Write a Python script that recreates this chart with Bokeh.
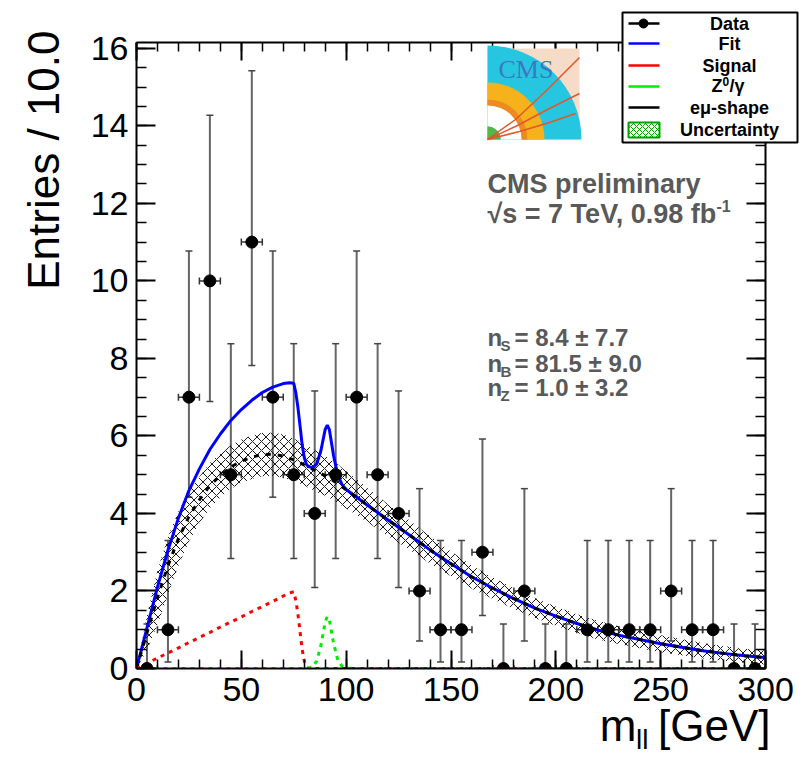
import numpy as np
from bokeh.plotting import figure
from bokeh.models import (ColumnDataSource, Whisker, TeeHead, Label, LinearAxis,
                          SingleIntervalTicker, Range1d, CustomJSTickFormatter)
from bokeh.embed import file_html
from bokeh.resources import INLINE

# ---------------- data ----------------
bin_centers = [5, 15, 25, 35, 45, 55, 65, 75, 85, 95, 105, 115, 125, 135, 145,
               155, 165, 175, 185, 195, 205, 215, 225, 235, 245, 255, 265, 275, 285, 295]
counts = [0, 1, 7, 10, 5, 11, 7, 5, 4, 5, 7, 5, 4, 2, 1,
          1, 3, 0, 2, 0, 0, 1, 1, 1, 1, 2, 1, 1, 0, 0]
err_low = [0, 0.17, 4.42, 6.89, 2.84, 7.82, 4.42, 2.84, 2.09, 2.84, 4.42, 2.84, 2.09, 0.71, 0.17,
           0.17, 1.37, 0, 0.71, 0, 0, 0.17, 0.17, 0.17, 0.17, 0.71, 0.17, 0.17, 0, 0]
err_high = [1.15, 3.30, 10.77, 14.27, 8.38, 15.42, 10.77, 8.38, 7.16, 8.38, 10.77, 8.38, 7.16, 4.64, 3.30,
            3.30, 5.92, 1.15, 4.64, 1.15, 1.15, 3.30, 3.30, 3.30, 3.30, 4.64, 3.30, 3.30, 1.15, 1.15]
bin_half_width = 5.0

curve_x = [0, 5, 10, 15, 20, 25, 30, 35, 40, 45, 50, 55, 60, 65, 70,
           73, 75, 76, 77, 78, 79, 80, 81, 82,
           84, 86, 88, 90, 91, 92, 94, 96, 98, 100,
           105, 110,
           120, 130, 140, 150, 160, 170, 180, 190, 200, 210, 220, 230, 240, 250,
           260, 270, 280, 290, 300]
emu_shape = [0, 0.92, 1.83, 2.65, 3.35, 3.92, 4.35, 4.72, 4.98, 5.20, 5.35, 5.45, 5.52, 5.53, 5.48,
             5.42, 5.38, 5.36, 5.33, 5.31, 5.28, 5.25, 5.22, 5.20,
             5.14, 5.08, 5.03, 4.97, 4.94, 4.91, 4.84, 4.77, 4.69, 4.61,
             4.42, 4.22,
             3.83, 3.45, 3.06, 2.70, 2.36, 2.07, 1.80, 1.56, 1.35, 1.16, 0.99, 0.86, 0.75, 0.64,
             0.55, 0.46, 0.39, 0.33, 0.28]
signal_curve = [0, 0.13, 0.27, 0.40, 0.53, 0.67, 0.80, 0.93, 1.07, 1.20, 1.33, 1.47, 1.60, 1.73, 1.87,
                1.95, 1.98, 1.75, 1.40, 0.95, 0.50, 0.20, 0.05, 0,
                0, 0, 0, 0, 0, 0, 0, 0, 0, 0,
                0, 0,
                0, 0, 0, 0, 0, 0, 0, 0, 0, 0, 0, 0, 0, 0,
                0, 0, 0, 0, 0]
zgamma_curve = [0, 0, 0, 0, 0, 0, 0, 0, 0, 0, 0, 0, 0, 0, 0,
                0, 0, 0, 0, 0, 0, 0, 0, 0.01,
                0.04, 0.20, 0.60, 1.20, 1.34, 1.25, 0.65, 0.22, 0.06, 0.01,
                0, 0,
                0, 0, 0, 0, 0, 0, 0, 0, 0, 0, 0, 0, 0, 0,
                0, 0, 0, 0, 0]
uncert_halfwidth = [0, 0.45, 0.70, 0.75, 0.70, 0.65, 0.60, 0.58, 0.57, 0.56, 0.56, 0.56, 0.56, 0.56, 0.56,
                    0.55, 0.55, 0.55, 0.55, 0.54, 0.54, 0.54, 0.54, 0.53,
                    0.53, 0.53, 0.52, 0.52, 0.51, 0.51, 0.50, 0.50, 0.49, 0.48,
                    0.46, 0.44,
                    0.41, 0.38, 0.35, 0.32, 0.30, 0.28, 0.27, 0.26, 0.25, 0.24, 0.24, 0.23, 0.23, 0.22,
                    0.21, 0.20, 0.19, 0.18, 0.18]

legend_labels = ["Data", "Fit", "Signal", "Z", "eμ-shape", "Uncertainty"]
fit_results = [("S", "= 8.4 ± 7.7"), ("B", "= 81.5 ± 9.0"), ("Z", "= 1.0 ± 3.2")]

# derived
bkg = np.array(emu_shape)
fit_curve = bkg + np.array(signal_curve) + np.array(zgamma_curve)
band_lo = np.maximum(bkg - np.array(uncert_halfwidth), 0)
band_hi = bkg + np.array(uncert_halfwidth)

FONT = "Liberation Sans"
W, H = 799, 758

# ================= main plot =================
p = figure(width=W, height=H, x_range=Range1d(0, 300), y_range=Range1d(0, 16.15),
           output_backend="svg", toolbar_location=None,
           min_border_left=136, min_border_right=34, min_border_top=42, min_border_bottom=90,
           background_fill_color="white", border_fill_color="white", outline_line_color=None)
p.grid.visible = False


def style_axis(ax, major, minor, labels):
    ax.axis_line_width = 2
    ax.axis_line_color = "black"
    ax.major_tick_in = major
    ax.major_tick_out = 0
    ax.minor_tick_in = minor
    ax.minor_tick_out = 0
    ax.major_tick_line_width = 2
    ax.minor_tick_line_width = 1.5
    ax.major_tick_line_color = "black"
    ax.minor_tick_line_color = "black"
    if labels:
        ax.major_label_text_font = FONT
        ax.major_label_text_font_size = "34px"
        ax.major_label_text_color = "black"
    else:
        ax.formatter = CustomJSTickFormatter(code="return ''")
        ax.major_label_standoff = 0


p.xaxis.ticker = SingleIntervalTicker(interval=50, num_minor_ticks=5)
p.yaxis.ticker = SingleIntervalTicker(interval=2, num_minor_ticks=4)
style_axis(p.xaxis[0], 18, 9, True)
style_axis(p.yaxis[0], 19, 10, True)
p.xaxis.major_label_standoff = 9
p.yaxis.major_label_standoff = 8

ax_top = LinearAxis(ticker=SingleIntervalTicker(interval=50, num_minor_ticks=5))
style_axis(ax_top, 18, 9, False)
p.add_layout(ax_top, "above")
ax_right = LinearAxis(ticker=SingleIntervalTicker(interval=2, num_minor_ticks=4))
style_axis(ax_right, 19, 10, False)
p.add_layout(ax_right, "right")

# band and curves
p.varea(x=curve_x, y1=band_lo, y2=band_hi, fill_alpha=0, hatch_pattern="diagonal_cross",
        hatch_color="black", hatch_scale=9, hatch_weight=0.9)
p.line(curve_x, fit_curve, line_color="#0000ff", line_width=3)
p.line(curve_x, emu_shape, line_color="black", line_width=3, line_dash="5 7")
p.line(curve_x, signal_curve, line_color="#ff0000", line_width=3, line_dash="4 5")
p.line(curve_x, zgamma_curve, line_color="#00ee00", line_width=3, line_dash="4 5")

# data points
bc = np.array(bin_centers, dtype=float)
src = ColumnDataSource(dict(x=bc, y=counts, lo=err_low, hi=err_high,
                            xl=bc - bin_half_width, xh=bc + bin_half_width))
p.add_layout(Whisker(base="x", lower="lo", upper="hi", source=src, dimension="height",
                     line_color="#666666", line_width=2,
                     upper_head=TeeHead(size=7, line_color="#444444", line_width=1.5),
                     lower_head=TeeHead(size=7, line_color="#444444", line_width=1.5)))
p.add_layout(Whisker(base="y", lower="xl", upper="xh", source=src, dimension="width",
                     line_color="#333333", line_width=1.5,
                     upper_head=TeeHead(size=7, line_color="#333333", line_width=1.5),
                     lower_head=TeeHead(size=7, line_color="#333333", line_width=1.5)))
p.scatter("x", "y", source=src, size=12, fill_color="black", line_color="black")

# ================= overlay (page pixel coordinates) for texts, legend, logo =================
ov = figure(width=W, height=H, x_range=Range1d(0, W), y_range=Range1d(H, 0),
            output_backend="svg", toolbar_location=None, min_border=0,
            x_axis_location=None, y_axis_location=None,
            background_fill_alpha=0, border_fill_alpha=0, outline_line_color=None)
ov.grid.visible = False
ov.styles = {"position": "absolute", "top": "0px", "left": "0px"}

MID = 0.3465  # distance (in em) from text-box middle to alphabetic baseline


def lab(X, Y, text, size, color="black", bold=False, align="left", rotated=False, font=FONT,
        middle=False):
    """(X, Y) is the baseline point unless middle=True."""
    if rotated:
        x, y, ang = X - (0 if middle else MID * size), Y, np.pi / 2
    else:
        x, y, ang = X, Y - (0 if middle else MID * size), 0.0
    ov.add_layout(Label(x=x, y=y, text=text, text_font=font, text_font_size=f"{size}px",
                        text_color=color, text_font_style="bold" if bold else "normal",
                        text_align=align, text_baseline="middle", angle=ang))


# CMS logo (decoration)
LX0, LX1, LY0, LY1 = 487, 579, 139, 48
ov.quad(left=[LX0], right=[LX1], bottom=[LY0], top=[LY1], fill_color="#f6dcc8", line_color=None)
for r_in, r_out, col in [(0, 94, "#27c6e0"), (34, 57, "#f6b21a"), (34, 40, "#ee8a22"),
                         (13, 34, "white"), (0, 13, "#52b848")]:
    ov.annular_wedge(x=[LX0], y=[LY0], inner_radius=r_in, outer_radius=r_out,
                     inner_radius_units="screen", outer_radius_units="screen",
                     start_angle=0, end_angle=np.pi / 2, fill_color=col, line_color=None)
for pts in [[(0, 0), (28, 20), (58, 48), (92, 82)],
            [(0, 0), (30, 14), (60, 30), (92, 46)],
            [(0, 0), (32, 8), (62, 17), (88, 26)]]:
    ov.line([LX0 + a for a, b in pts], [LY0 - b for a, b in pts], line_color="#e2572a", line_width=1.5)
lab(498, 78, "CMS", 26, "#3b78c4", font="Liberation Serif")

# physics texts
GREY = "#595959"
lab(487, 193, "CMS preliminary", 27, GREY, True)
lab(487, 223, "√s = 7 TeV, 0.98 fb", 27, GREY, True)
lab(716, 211, "-1", 16, GREY, True)
for yb, (sub, rest) in zip([345, 371, 395], fit_results):
    lab(487, yb, "n", 24, GREY, True)
    lab(500, yb + 5, sub, 15, GREY, True)
    lab(514, yb, rest, 24, GREY, True)

# axis titles
lab(58, 30, "Entries / 10.0", 44, rotated=True, align="right")
lab(770, 740, "[GeV]", 44, align="right")
lab(648, 749, "ll", 28, align="right")
lab(636, 740, "m", 44, align="right")

# legend
ov.quad(left=[622], right=[797], top=[12], bottom=[142], fill_color="white",
        line_color="black", line_width=2)
rows = [23, 43, 65, 86, 107, 129]
line_cols = ["black", "#0000ff", "#ff0000", "#00ee00", "black"]
ov.segment(x0=[628] * 5, x1=[659] * 5, y0=rows[:5], y1=rows[:5], line_color=line_cols, line_width=2.5)
ov.scatter([643], [rows[0]], size=9, fill_color="black", line_color="black")
ov.quad(left=[628], right=[659], top=[122], bottom=[137], fill_color="white",
        hatch_pattern="diagonal_cross", hatch_color="#00a000", hatch_scale=6, hatch_weight=1,
        line_color="#00a000", line_width=2)
for yy, t in zip(rows, legend_labels):
    if t == "Z":
        lab(711, yy + 6, "Z", 18, bold=True)
        lab(722, yy - 1, "0", 12, bold=True)
        lab(729, yy + 6, "/γ", 18, bold=True)
    else:
        lab(729, yy, t, 18, bold=True, align="center", middle=True)

open("out.html", "w").write(file_html((p, ov), INLINE))
